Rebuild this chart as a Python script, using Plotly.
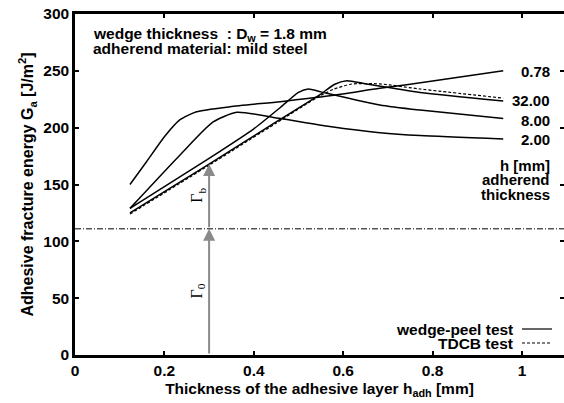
import plotly.graph_objects as go

# ---- data ----
x_078 = [0.123, 0.16, 0.2, 0.235, 0.272, 0.347, 0.459, 0.57, 0.682, 0.8, 0.958]
y_078 = [150, 170, 192, 207, 214, 218.4, 222.9, 228, 234.6, 241, 250]

x_2 = [0.123, 0.235, 0.309, 0.362, 0.459, 0.57, 0.682, 0.772, 0.958]
y_2 = [129, 176, 205, 213.5, 208, 201, 195.6, 193, 190]

x_8 = [0.123, 0.3, 0.4, 0.46, 0.5, 0.522, 0.55, 0.682, 0.772, 0.958]
y_8 = [129, 173, 199, 218, 231, 234, 231.5, 220, 215.5, 208]

x_32 = [0.123, 0.3, 0.45, 0.548, 0.58, 0.608, 0.652, 0.772, 0.958]
y_32 = [125, 168, 205, 229, 238, 241.3, 238.4, 231, 223.5]

x_tdcb = [0.123, 0.3, 0.45, 0.548, 0.58, 0.619, 0.682, 0.772, 0.958]
y_tdcb = [124, 167, 204, 228, 234, 238.4, 238.5, 234, 226]

curve_labels = ["0.78", "32.00", "8.00", "2.00"]
label_y = [249, 223.5, 206.7, 190]
note_labels = ["h [mm]", "adherend", "thickness"]
note_y = [167, 154.5, 141.5]

gamma0_level = 111
gamma_x = 0.3
gammab_top = 168

x_ticks = [0, 0.2, 0.4, 0.6, 0.8, 1]
x_ticktext = ["0", "0.2", "0.4", "0.6", "0.8", "1"]
y_ticks = [0, 50, 100, 150, 200, 250, 300]

FONT = "Liberation Sans, Arial, sans-serif"
W, H = 564, 403
L, R, T, B = 75, 0, 14, 48
xmax = (W - L - R) / 447.0

def bold(size):
    return dict(family=FONT, size=size, color="black", weight="bold")

fig = go.Figure()
line = dict(color="black", width=1.5, shape="spline", smoothing=0.6)
for xs, ys in [(x_078, y_078), (x_2, y_2), (x_8, y_8), (x_32, y_32)]:
    fig.add_trace(go.Scatter(x=xs, y=ys, mode="lines", line=line, showlegend=False, hoverinfo="skip"))
fig.add_trace(go.Scatter(x=x_tdcb, y=y_tdcb, mode="lines",
                         line=dict(color="black", width=1.2, dash="3px,2px", shape="spline", smoothing=0.6),
                         showlegend=False, hoverinfo="skip"))
# invisible trace for right-side ticks
fig.add_trace(go.Scatter(x=[None], y=[None], yaxis="y2", showlegend=False, hoverinfo="skip"))

# dash-dot Gamma0 level
fig.add_hline(y=gamma0_level, line=dict(color="black", width=1, dash="6px,2px,1px,2px"))

# arrows
fig.add_annotation(x=gamma_x, y=gamma0_level, ax=gamma_x, ay=0, xref="x", yref="y", axref="x", ayref="y",
                   showarrow=True, arrowhead=2, arrowsize=1.2, arrowwidth=2, arrowcolor="#8a8a8a", text="")
fig.add_annotation(x=gamma_x, y=gammab_top, ax=gamma_x, ay=gamma0_level, xref="x", yref="y", axref="x", ayref="y",
                   showarrow=True, arrowhead=2, arrowsize=1.2, arrowwidth=2, arrowcolor="#8a8a8a", text="")
fig.add_annotation(x=0.273, y=56, xref="x", yref="y", text="Γ<sub>0</sub>", showarrow=False, textangle=-90,
                   font=dict(family="Liberation Serif, Times New Roman, serif", size=16, color="black"))
fig.add_annotation(x=0.275, y=141, xref="x", yref="y", text="Γ<sub>b</sub>", showarrow=False, textangle=-90,
                   font=dict(family="Liberation Serif, Times New Roman, serif", size=16, color="black"))

# right labels
for lab, yv in zip(curve_labels, label_y):
    fig.add_annotation(x=1.067, y=yv, xref="x", yref="y", text=lab, showarrow=False, xanchor="right",
                       yanchor="middle", font=bold(15))
for t, yv in zip(note_labels, note_y):
    fig.add_annotation(x=1.067, y=yv, xref="x", yref="y", text=t, showarrow=False, xanchor="right",
                       yanchor="middle", font=bold(15))

# top-left text
fig.add_annotation(x=(91 - L) / 447.0, y=(355 - 34) / (341 / 300), xref="x", yref="y",
                   text="wedge thickness  : D<sub>w</sub> = 1.8 mm", showarrow=False, xanchor="left",
                   yanchor="middle", font=bold(15.5))
fig.add_annotation(x=(91 - L) / 447.0, y=(355 - 48.5) / (341 / 300), xref="x", yref="y",
                   text="adherend material: mild steel", showarrow=False, xanchor="left",
                   yanchor="middle", font=bold(15.5))

# legend (text left of sample)
for i, (t, d) in enumerate([("wedge-peel test", "solid"), ("TDCB test", "3px,2px")]):
    ypx = 329 + i * 14
    yp = 1 - (ypx - T) / (H - T - B)
    fig.add_annotation(x=(515 - L) / (W - L - R), y=yp, xref="paper", yref="paper", text=t, showarrow=False,
                       xanchor="right", yanchor="middle", font=bold(15.5))
    fig.add_shape(type="line", xref="paper", yref="paper", x0=(522 - L) / (W - L - R), x1=(552 - L) / (W - L - R),
                  y0=yp, y1=yp, line=dict(color="black", width=1.2, dash=d))

fig.update_layout(
    width=W, height=H, margin=dict(l=L, r=R, t=T, b=B),
    plot_bgcolor="white", paper_bgcolor="white",
    font=dict(family=FONT, size=14, color="black"),
    xaxis=dict(range=[0, xmax], tickvals=x_ticks, ticktext=x_ticktext, ticks="inside", ticklen=4,
               tickwidth=1.5, tickcolor="black", showline=True, linewidth=2.5, linecolor="black",
               mirror="ticks", showgrid=False, zeroline=False,
               tickfont=bold(15.5),
               title=dict(text="Thickness of the adhesive layer h<sub>adh</sub> [mm]", standoff=5,
                          font=bold(15.5))),
    yaxis=dict(range=[0, 300], tickvals=y_ticks, ticks="inside", ticklen=4, tickwidth=1.5, tickcolor="black",
               showline=True, linewidth=2.5, linecolor="black", mirror=False, showgrid=False, zeroline=False,
               tickfont=bold(15.5),
               title=dict(text="Adhesive fracture energy G<sub>a</sub> [J/m<sup>2</sup>]", standoff=6,
                          font=bold(16))),
    yaxis2=dict(range=[0, 300], overlaying="y", side="right", matches="y", tickvals=y_ticks, ticks="inside",
                ticklen=4, tickwidth=1.5, tickcolor="black", showticklabels=False, showline=False,
                showgrid=False, zeroline=False),
)

fig.write_html("out.html")
